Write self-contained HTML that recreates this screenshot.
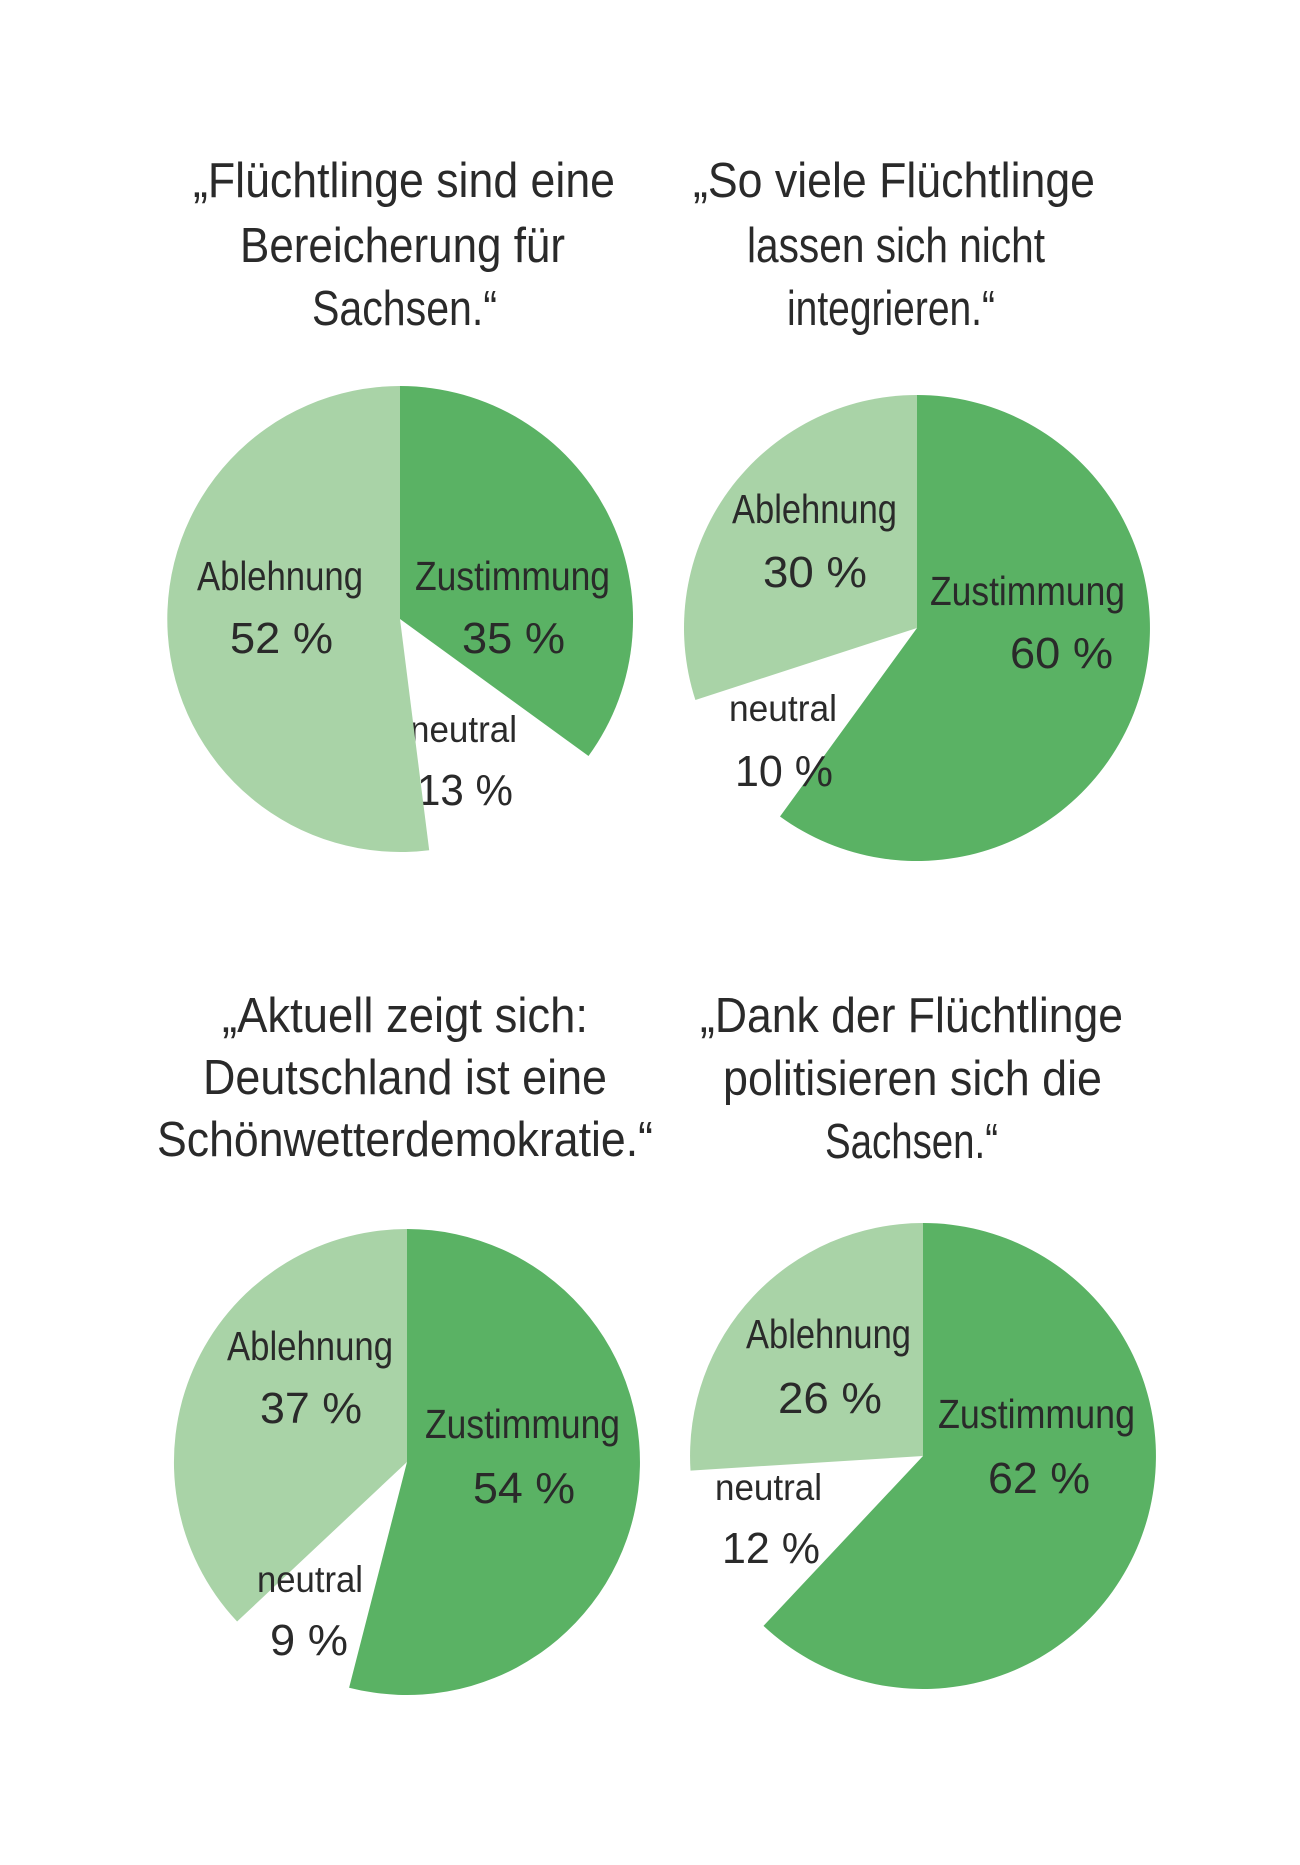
<!DOCTYPE html>
<html>
<head>
<meta charset="utf-8">
<style>
  html, body { margin: 0; padding: 0; background: #ffffff; }
  svg { display: block; }
  text { font-family: "Liberation Sans", "DejaVu Sans", sans-serif; fill: #2a2a2a; }
  .t { font-size: 49px; }
  .n { font-size: 41px; }
  .p { font-size: 44px; }
  .u { font-size: 37px; }
</style>
</head>
<body>
<svg width="1300" height="1865" viewBox="0 0 1300 1865" xmlns="http://www.w3.org/2000/svg">
  <rect width="1300" height="1865" fill="#ffffff"/>

  <!-- Titles -->
  <text class="t" x="193" y="197" textLength="422" lengthAdjust="spacingAndGlyphs">„Flüchtlinge sind eine</text>
  <text class="t" x="240" y="262" textLength="325" lengthAdjust="spacingAndGlyphs">Bereicherung für</text>
  <text class="t" x="312" y="325" textLength="185" lengthAdjust="spacingAndGlyphs">Sachsen.“</text>

  <text class="t" x="693" y="197" textLength="402" lengthAdjust="spacingAndGlyphs">„So viele Flüchtlinge</text>
  <text class="t" x="747" y="262" textLength="298" lengthAdjust="spacingAndGlyphs">lassen sich nicht</text>
  <text class="t" x="787" y="325" textLength="208" lengthAdjust="spacingAndGlyphs">integrieren.“</text>

  <text class="t" x="222" y="1032" textLength="366" lengthAdjust="spacingAndGlyphs">„Aktuell zeigt sich:</text>
  <text class="t" x="203" y="1094" textLength="404" lengthAdjust="spacingAndGlyphs">Deutschland ist eine</text>
  <text class="t" x="157" y="1156" textLength="496" lengthAdjust="spacingAndGlyphs">Schönwetterdemokratie.“</text>

  <text class="t" x="700" y="1032" textLength="423" lengthAdjust="spacingAndGlyphs">„Dank der Flüchtlinge</text>
  <text class="t" x="723" y="1095" textLength="379" lengthAdjust="spacingAndGlyphs">politisieren sich die</text>
  <text class="t" x="825" y="1158" textLength="173" lengthAdjust="spacingAndGlyphs">Sachsen.“</text>

  <!-- Pie 1 -->
  <text class="u" x="410" y="742" textLength="107" lengthAdjust="spacingAndGlyphs">neutral</text>
  <text class="p" x="417" y="805" textLength="96" lengthAdjust="spacingAndGlyphs">13 %</text>
  <path d="M400 619 L400 386 A233 233 0 0 1 588.5 756 Z" fill="#5ab264"/>
  <path d="M400 619 L429.2 850.2 A233 233 0 1 1 400 386 Z" fill="#a9d3a7"/>
  <text class="n" x="197" y="590" textLength="166" lengthAdjust="spacingAndGlyphs">Ablehnung</text>
  <text class="p" x="230" y="653" textLength="103" lengthAdjust="spacingAndGlyphs">52 %</text>
  <text class="n" x="415" y="590" textLength="195" lengthAdjust="spacingAndGlyphs">Zustimmung</text>
  <text class="p" x="462" y="653" textLength="103" lengthAdjust="spacingAndGlyphs">35 %</text>

  <!-- Pie 2 -->
  <path d="M917 628 L917 395 A233 233 0 1 1 780 816.5 Z" fill="#5ab264"/>
  <path d="M917 628 L695.4 700 A233 233 0 0 1 917 395 Z" fill="#a9d3a7"/>
  <text class="n" x="732" y="523" textLength="165" lengthAdjust="spacingAndGlyphs">Ablehnung</text>
  <text class="p" x="763" y="587" textLength="104" lengthAdjust="spacingAndGlyphs">30 %</text>
  <text class="n" x="930" y="605" textLength="195" lengthAdjust="spacingAndGlyphs">Zustimmung</text>
  <text class="p" x="1010" y="668" textLength="103" lengthAdjust="spacingAndGlyphs">60 %</text>
  <text class="u" x="729" y="721" textLength="108" lengthAdjust="spacingAndGlyphs">neutral</text>
  <text class="p" x="735" y="786" textLength="98" lengthAdjust="spacingAndGlyphs">10 %</text>

  <!-- Pie 3 -->
  <path d="M407 1462 L407 1229 A233 233 0 1 1 349.1 1687.7 Z" fill="#5ab264"/>
  <path d="M407 1462 L237.1 1621.5 A233 233 0 0 1 407 1229 Z" fill="#a9d3a7"/>
  <text class="n" x="227" y="1360" textLength="166" lengthAdjust="spacingAndGlyphs">Ablehnung</text>
  <text class="p" x="260" y="1423" textLength="102" lengthAdjust="spacingAndGlyphs">37 %</text>
  <text class="n" x="425" y="1438" textLength="195" lengthAdjust="spacingAndGlyphs">Zustimmung</text>
  <text class="p" x="473" y="1503" textLength="102" lengthAdjust="spacingAndGlyphs">54 %</text>
  <text class="u" x="257" y="1592" textLength="106" lengthAdjust="spacingAndGlyphs">neutral</text>
  <text class="p" x="270" y="1655" textLength="78" lengthAdjust="spacingAndGlyphs">9 %</text>

  <!-- Pie 4 -->
  <path d="M923 1456 L923 1223 A233 233 0 1 1 763.5 1625.9 Z" fill="#5ab264"/>
  <path d="M923 1456 L690.5 1470.6 A233 233 0 0 1 923 1223 Z" fill="#a9d3a7"/>
  <text class="n" x="746" y="1348" textLength="165" lengthAdjust="spacingAndGlyphs">Ablehnung</text>
  <text class="p" x="778" y="1413" textLength="104" lengthAdjust="spacingAndGlyphs">26 %</text>
  <text class="n" x="938" y="1428" textLength="197" lengthAdjust="spacingAndGlyphs">Zustimmung</text>
  <text class="p" x="988" y="1493" textLength="102" lengthAdjust="spacingAndGlyphs">62 %</text>
  <text class="u" x="715" y="1500" textLength="107" lengthAdjust="spacingAndGlyphs">neutral</text>
  <text class="p" x="722" y="1563" textLength="98" lengthAdjust="spacingAndGlyphs">12 %</text>
</svg>
</body>
</html>
